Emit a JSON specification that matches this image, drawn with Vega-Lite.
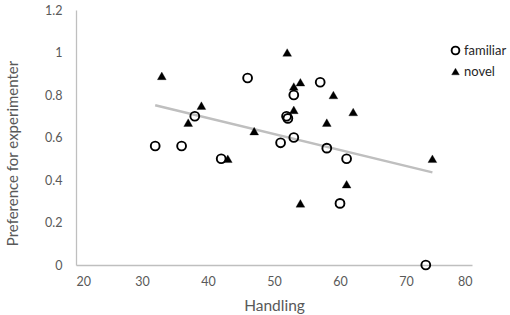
{
  "$schema": "https://vega.github.io/schema/vega-lite/v6.json",
  "width": 396,
  "height": 255,
  "autosize": {"type": "none"},
  "padding": {"left": 76, "top": 10, "right": 38, "bottom": 50},
  "background": "white",
  "config": {
    "view": {"stroke": null},
    "font": "Lato",
    "axis": {"domainColor": "#BFBFBF", "domainWidth": 1.3, "ticks": false, "grid": false, "labelColor": "#595959", "labelFontSize": 12.5, "titleColor": "#595959", "titleFontSize": 15.5, "titleFontWeight": "normal"}
  },
  "datasets": {
    "points": [
      {"handling": 32, "pref": 0.56, "group": "familiar"},
      {"handling": 36, "pref": 0.56, "group": "familiar"},
      {"handling": 38, "pref": 0.70, "group": "familiar"},
      {"handling": 42, "pref": 0.50, "group": "familiar"},
      {"handling": 46, "pref": 0.88, "group": "familiar"},
      {"handling": 51, "pref": 0.575, "group": "familiar"},
      {"handling": 51.9, "pref": 0.70, "group": "familiar"},
      {"handling": 52.1, "pref": 0.69, "group": "familiar"},
      {"handling": 53, "pref": 0.80, "group": "familiar"},
      {"handling": 53, "pref": 0.60, "group": "familiar"},
      {"handling": 57, "pref": 0.86, "group": "familiar"},
      {"handling": 58, "pref": 0.55, "group": "familiar"},
      {"handling": 61, "pref": 0.50, "group": "familiar"},
      {"handling": 60, "pref": 0.29, "group": "familiar"},
      {"handling": 73, "pref": 0.0, "group": "familiar"},
      {"handling": 33, "pref": 0.89, "group": "novel"},
      {"handling": 37, "pref": 0.67, "group": "novel"},
      {"handling": 39, "pref": 0.75, "group": "novel"},
      {"handling": 43, "pref": 0.50, "group": "novel"},
      {"handling": 47, "pref": 0.63, "group": "novel"},
      {"handling": 52, "pref": 1.0, "group": "novel"},
      {"handling": 53, "pref": 0.84, "group": "novel"},
      {"handling": 54, "pref": 0.86, "group": "novel"},
      {"handling": 53, "pref": 0.73, "group": "novel"},
      {"handling": 54, "pref": 0.29, "group": "novel"},
      {"handling": 58, "pref": 0.67, "group": "novel"},
      {"handling": 59, "pref": 0.80, "group": "novel"},
      {"handling": 61, "pref": 0.38, "group": "novel"},
      {"handling": 62, "pref": 0.72, "group": "novel"},
      {"handling": 74, "pref": 0.50, "group": "novel"}
    ],
    "trend": [
      {"handling": 32, "pref": 0.752},
      {"handling": 74, "pref": 0.436}
    ]
  },
  "layer": [
    {
      "data": {"name": "trend"},
      "mark": {"type": "line", "color": "#BFBFBF", "strokeWidth": 2.5},
      "encoding": {
        "x": {"field": "handling", "type": "quantitative"},
        "y": {"field": "pref", "type": "quantitative"}
      }
    },
    {
      "data": {"name": "points"},
      "mark": {"type": "point", "size": 78, "opacity": 1},
      "encoding": {
        "x": {"field": "handling", "type": "quantitative", "title": "Handling",
              "scale": {"domain": [20, 80], "nice": false, "zero": false},
              "axis": {"values": [20, 30, 40, 50, 60, 70, 80], "labelPadding": 10, "titlePadding": 11}},
        "y": {"field": "pref", "type": "quantitative", "title": "Preference for experimenter",
              "scale": {"domain": [0, 1.2], "nice": false},
              "axis": {"values": [0, 0.2, 0.4, 0.6, 0.8, 1, 1.2], "format": "~g", "labelPadding": 14, "titlePadding": 24, "titleY": 143, "titleFontSize": 15}},
        "shape": {"field": "group", "type": "nominal", "title": null,
                  "scale": {"domain": ["familiar", "novel"], "range": ["circle", "triangle-up"]},
                  "legend": {"orient": "none", "legendX": 373, "legendY": 34, "labelFontSize": 13, "labelColor": "#262626", "symbolSize": 60, "symbolStrokeWidth": 1.8, "rowPadding": 6, "labelOffset": 2}},
        "fill": {"field": "group", "type": "nominal",
                 "scale": {"domain": ["familiar", "novel"], "range": ["transparent", "black"]}},
        "stroke": {"field": "group", "type": "nominal",
                   "scale": {"domain": ["familiar", "novel"], "range": ["black", "black"]}},
        "strokeWidth": {"field": "group", "type": "nominal",
                        "scale": {"domain": ["familiar", "novel"], "range": [1.9, 0.3]}, "legend": null}
      }
    }
  ]
}
